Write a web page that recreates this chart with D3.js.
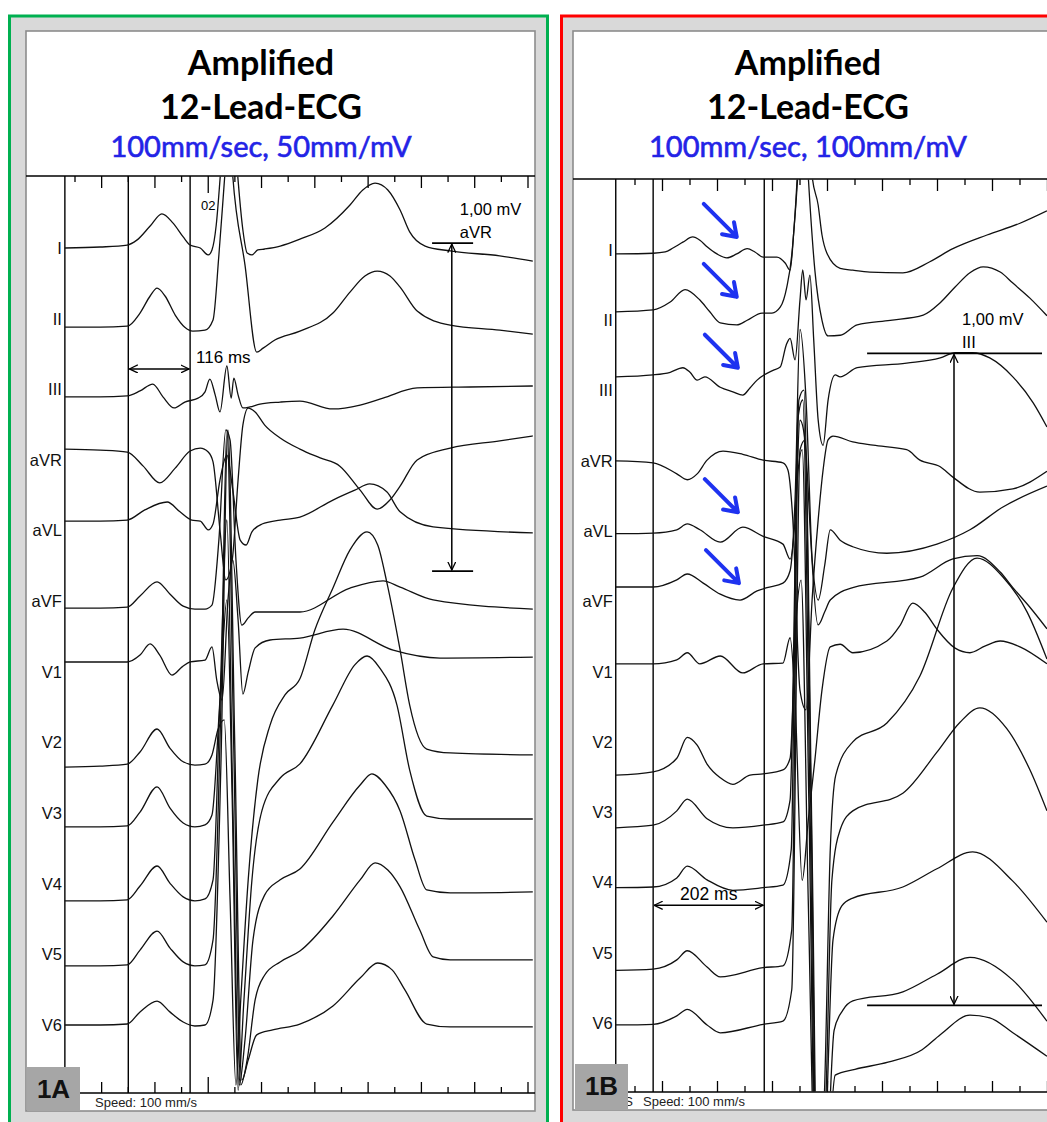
<!DOCTYPE html>
<html><head><meta charset="utf-8">
<script src="https://cdn.jsdelivr.net/npm/d3@7"></script>
<style>body{margin:0;background:#fff}svg{display:block}text{font-family:"Liberation Sans",Arial,sans-serif}</style>
</head><body><svg id="c" width="1047" height="1122"></svg>
<script>
// ---------- data ----------
const leads = ["I","II","III","aVR","aVL","aVF","V1","V2","V3","V4","V5","V6"];
const titleLines = ["Amplified","12-Lead-ECG"];
const subtitleA = "100mm/sec, 50mm/mV";
const subtitleB = "100mm/sec, 100mm/mV";
const panelLabels = ["1A","1B"];
const speedLabel = "Speed: 100 mm/s";
const tickTimesA = d3.range(0, 851, 50);   // ms
const tickTimesB = d3.range(0, 751, 50);
const markerTimeA = 250, markerLabelA = "02";
const startA = -19, startB = -35;           // ms, start of recording
const intervalA = [100, 216];               // ms  (116 ms)
const intervalB = [33, 235];                // ms  (202 ms)
const calA = {lead:"I", t:707, top:15, span:1000, t0:670, t1:747, lbl:"1,00 mV", leadLbl:"aVR"};
const calB = {lead:"III", t:580, top:57, span:1000, t0:422, t1:740, lbl:"1,00 mV", leadLbl:"III"};
const arrowLeadsB = ["I","II","III","aVL","aVF"];
const arrowTimesB = [185,185,187,187,189];
const arrowValsB  = [20,36,35,29,28];

// traces: [time ms, amplitude µV relative to the lead's row]
const A_I=[[-19,0],[47,3],[98,9],[116,24],[141,67],[163,104],[184,76],[203,34],[216,9],[235,0],[250,-21],[257,-6],[265,70],[272,207],[289,634],[306,207],[315,55],[323,-15],[332,-21],[343,-6],[356,-3],[385,6],[422,27],[469,61],[516,131],[540,177],[563,198],[587,177],[610,116],[628,49],[657,6],[704,-9],[797,-24],[859,-40]];
const A_II=[[-19,-26],[47,-26],[98,-23],[122,17],[141,69],[154,93],[169,69],[188,11],[206,-26],[221,-38],[244,-35],[259,-4],[270,194],[281,435],[289,606],[296,435],[319,163],[341,-102],[353,-90],[375,-65],[422,-38],[484,17],[516,81],[544,130],[567,145],[591,130],[610,96],[642,23],[704,-20],[797,-35],[859,-47]];
const A_III=[[-19,-23],[47,-23],[98,-20],[122,-5],[146,16],[165,-23],[186,-57],[206,-39],[231,-27],[244,-8],[253,31],[263,-17],[272,-69],[285,71],[293,-27],[298,34],[306,-17],[315,-57],[328,-54],[347,-45],[385,-39],[422,-36],[484,-60],[535,-48],[578,-27],[642,4],[741,7],[859,10]];
const A_aVR=[[-19,33],[47,30],[98,24],[128,-19],[159,-70],[188,-25],[216,27],[235,36],[250,24],[259,-6],[272,-213],[283,-366],[295,-305],[306,-61],[315,106],[325,158],[338,146],[356,106],[385,67],[422,33],[460,6],[497,-19],[535,-92],[567,-150],[591,-122],[610,-80],[642,0],[704,36],[797,58],[859,73]];
const A_aVL=[[-19,29],[47,29],[98,32],[131,63],[173,87],[197,57],[219,32],[235,29],[250,2],[259,20],[272,154],[285,230],[296,124],[310,-29],[321,-44],[332,-4],[351,20],[385,32],[422,41],[484,93],[525,123],[553,142],[585,118],[610,57],[672,11],[859,-7]];
const A_aVF=[[-19,-21],[47,-21],[98,-18],[122,16],[154,59],[178,22],[203,-15],[225,-24],[244,-24],[257,-12],[270,187],[283,522],[291,491],[302,126],[313,-73],[325,-51],[338,-33],[366,-33],[422,-33],[516,40],[578,62],[610,43],[672,4],[859,-24]];
const A_V1=[[-19,30],[47,30],[98,30],[122,51],[141,85],[159,51],[182,-10],[201,15],[216,30],[244,36],[257,76],[266,-25],[276,-86],[287,219],[296,341],[306,158],[315,-68],[325,-1],[338,73],[366,97],[422,103],[503,130],[597,66],[685,42],[859,45]];
const A_V2=[[-19,-75],[47,-72],[98,-66],[122,-29],[154,41],[178,-17],[203,-59],[225,-69],[244,-66],[257,-38],[268,38],[280,69],[291,-480],[302,-1045],[311,-785],[325,-419],[343,-114],[366,53],[394,145],[422,194],[450,343],[484,471],[516,587],[548,642],[568,602],[585,489],[610,282],[628,114],[660,-20],[704,-32],[859,-38]];
const A_V3=[[-19,-42],[47,-42],[98,-39],[122,3],[154,80],[178,16],[203,-30],[225,-42],[244,-36],[257,-6],[272,345],[285,650],[295,40],[306,-845],[317,-570],[332,-204],[351,9],[385,107],[422,150],[484,330],[525,452],[548,479],[572,442],[604,330],[628,131],[660,-9],[704,-18],[859,-18]];
const A_V4=[[-19,-52],[47,-52],[98,-49],[122,-7],[154,54],[178,2],[203,-40],[225,-52],[244,-46],[259,12],[272,560],[285,1109],[296,255],[308,-614],[319,-476],[334,-171],[356,-34],[385,12],[422,45],[484,188],[535,301],[557,335],[582,301],[610,222],[638,73],[660,-19],[704,-28],[859,-25]];
const A_V5=[[-19,-35],[47,-35],[98,-32],[122,13],[154,71],[178,20],[203,-23],[225,-35],[244,-32],[259,44],[274,776],[285,1599],[298,623],[311,-398],[323,-322],[338,-139],[356,-63],[385,-23],[422,10],[484,117],[535,227],[563,279],[587,257],[610,206],[647,74],[672,-8],[704,-17],[859,-17]];
const A_V6=[[-19,0],[47,0],[98,3],[122,40],[154,73],[178,40],[203,9],[225,-3],[244,0],[259,76],[274,808],[287,1814],[300,838],[313,-168],[325,-107],[341,-30],[371,-15],[422,3],[484,58],[535,143],[568,189],[595,168],[619,107],[660,3],[704,-6],[859,-6]];

const B_I=[[-35,-6],[33,-5],[55,-3],[69,3],[87,12],[105,20],[118,15],[131,5],[149,-6],[167,-12],[185,-6],[204,2],[218,-3],[233,-11],[258,-11],[273,-20],[282,-31],[289,31],[296,114],[309,337],[322,114],[333,69],[340,23],[349,-5],[373,-28],[396,-31],[427,-34],[487,-35],[536,-18],[578,2],[640,23],[700,41],[749,60]];
const B_II=[[-35,13],[33,16],[64,28],[91,47],[118,31],[136,13],[155,-4],[185,-7],[204,0],[231,11],[249,11],[264,20],[276,51],[285,100],[295,221],[304,399],[315,221],[327,77],[340,0],[351,-24],[373,-23],[404,-7],[464,0],[524,8],[555,27],[582,51],[609,73],[633,82],[664,74],[687,57],[718,34],[749,7]];
const B_III=[[-35,21],[33,24],[64,28],[87,35],[100,28],[113,16],[127,21],[155,5],[178,-2],[196,-7],[209,4],[222,16],[251,31],[264,36],[275,70],[282,80],[291,47],[300,139],[305,185],[311,139],[318,177],[325,77],[333,-45],[342,-84],[351,-15],[364,24],[373,21],[404,35],[494,42],[555,50],[582,58],[614,58],[645,50],[687,21],[724,-19],[749,-56]];
const B_aVR=[[-35,0],[33,-3],[76,-20],[95,-29],[113,-20],[131,1],[160,15],[196,10],[233,1],[269,-3],[278,-14],[287,-91],[300,-352],[311,-382],[322,-213],[333,-91],[342,-14],[351,32],[360,38],[396,29],[433,24],[494,17],[518,1],[555,-9],[578,-25],[627,-48],[687,-43],[749,-16]];
const B_aVL=[[-35,-4],[33,-3],[76,2],[95,11],[118,2],[155,-17],[196,6],[233,-8],[269,-20],[282,-43],[291,17],[300,170],[309,140],[322,-44],[333,-106],[345,-52],[355,2],[373,-14],[396,-24],[458,-34],[549,-20],[609,2],[669,37],[749,69]];
const B_aVF=[[-35,22],[33,22],[76,33],[95,42],[124,28],[155,11],[191,2],[222,16],[240,21],[269,28],[282,47],[291,156],[300,417],[311,309],[322,63],[333,-36],[345,-16],[355,2],[396,21],[518,37],[578,65],[622,70],[664,45],[687,21],[718,-9],[749,-42]];
const B_V1=[[-35,12],[33,12],[76,18],[95,29],[118,12],[155,24],[196,-2],[233,12],[269,13],[282,52],[291,-43],[304,-320],[315,-228],[327,-136],[340,-28],[355,38],[373,42],[396,29],[458,47],[482,71],[505,105],[527,91],[549,65],[582,36],[609,29],[636,39],[664,47],[700,38],[749,12]];
const B_V2=[[-35,-51],[33,-46],[76,-25],[95,7],[113,-5],[131,-34],[155,-55],[178,-65],[209,-51],[233,-49],[269,-43],[282,-25],[293,187],[302,248],[315,-243],[329,-703],[344,-549],[355,-166],[365,-51],[396,0],[458,29],[518,101],[578,236],[622,282],[669,253],[713,199],[749,127]];
const B_V3=[[-35,-24],[33,-20],[76,2],[95,20],[131,-10],[178,-24],[233,-20],[269,-15],[282,19],[295,509],[304,556],[316,19],[331,-671],[347,-441],[358,-104],[373,-27],[396,2],[487,29],[549,92],[591,138],[627,160],[676,128],[718,65],[749,2]];
const B_V4=[[-35,-8],[33,-7],[76,7],[95,25],[131,4],[178,-12],[233,-8],[269,-4],[284,50],[296,710],[305,740],[318,127],[333,-640],[349,-334],[360,-88],[376,-36],[396,-24],[487,-7],[549,21],[614,47],[687,2],[749,-61]];
const B_V5=[[-35,-27],[33,-25],[76,-11],[95,3],[131,-22],[155,-37],[233,-23],[269,-20],[285,35],[298,848],[307,863],[320,234],[335,-610],[351,-303],[362,-119],[378,-88],[396,-74],[487,-60],[549,-33],[609,-7],[687,-42],[749,-105]];
const B_V6=[[-35,-3],[33,-2],[76,11],[95,21],[131,-3],[155,-15],[233,-2],[269,3],[285,51],[300,879],[309,894],[322,265],[336,-502],[353,-195],[364,-80],[400,-71],[460,-60],[522,-41],[555,-18],[609,12],[645,8],[687,-15],[749,-51]];

const tracesA = [A_I,A_II,A_III,A_aVR,A_aVL,A_aVF,A_V1,A_V2,A_V3,A_V4,A_V5,A_V6];
const tracesB = [B_I,B_II,B_III,B_aVR,B_aVL,B_aVF,B_V1,B_V2,B_V3,B_V4,B_V5,B_V6];

// ---------- drawing ----------
const svg = d3.select("#c");
const defs = svg.append("defs");
defs.append("marker").attr("id","chev").attr("viewBox","0 0 10 10").attr("refX",9.5).attr("refY",5)
  .attr("markerWidth",9).attr("markerHeight",9).attr("markerUnits","userSpaceOnUse").attr("orient","auto-start-reverse")
  .append("path").attr("d","M0,0.5L9.5,5L0,9.5").attr("fill","none").attr("stroke","#000").attr("stroke-width",1.4);

function panel(o){
  const g = svg.append("g");
  g.append("rect").attr("x",o.frameX).attr("y",16).attr("width",o.frameW).attr("height",1130).attr("fill","#d9d9d9");
  g.append("rect").attr("x",o.frameX).attr("y",16).attr("width",o.frameW).attr("height",1130)
    .attr("fill","none").attr("stroke",o.color).attr("stroke-width",3);
  g.append("rect").attr("x",o.innerL).attr("y",31).attr("width",o.innerR-o.innerL).attr("height",o.innerB-31)
    .attr("fill","#fff").attr("stroke","#8c8c8c").attr("stroke-width",1.6);
  const cx = o.innerL+235;
  g.selectAll("text.title").data(titleLines).join("text").attr("class","title")
    .attr("x",cx).attr("y",(d,i)=>[75,119][i]).attr("text-anchor","middle")
    .style("font-family","Lato, 'Open Sans', sans-serif").style("font-weight","700").style("font-size","34px").attr("fill","#000").text(d=>d);
  g.append("text").attr("x",cx).attr("y",157).attr("text-anchor","middle")
    .style("font-family","Lato, 'Open Sans', sans-serif").style("font-size","29px")
    .attr("fill","#2323e6").attr("stroke","#2323e6").attr("stroke-width",0.6).text(o.subtitle);

  const x = d3.scaleLinear().domain(o.xDomain).range(o.xRange);
  const row = d3.scalePoint().domain(leads).range(o.rowRange);
  const yv = (lead,v)=> row(lead) - v*o.gain;

  // axes lines
  g.append("line").attr("x1",o.innerL).attr("x2",o.innerR).attr("y1",o.top).attr("y2",o.top).attr("stroke","#000").attr("stroke-width",1.5);
  g.append("line").attr("x1",o.boxR).attr("x2",o.innerR).attr("y1",o.bottom).attr("y2",o.bottom).attr("stroke","#000").attr("stroke-width",1.5);
  const tl = t => (o.marker!==undefined && t===o.marker) ? 17 : (t%100===0 ? 6 : 12);
  g.selectAll("line.tt").data(o.ticks).join("line").attr("class","tt")
    .attr("x1",d=>x(d)).attr("x2",d=>x(d)).attr("y1",o.top).attr("y2",d=>o.top+tl(d)).attr("stroke","#000").attr("stroke-width",1.3);
  g.selectAll("line.bt").data(o.ticks.filter(t=>x(t)>o.boxR+2)).join("line").attr("class","bt")
    .attr("x1",d=>x(d)).attr("x2",d=>x(d)).attr("y1",o.bottom).attr("y2",d=>o.bottom-(tl(d)===6?6:tl(d)-1)).attr("stroke","#000").attr("stroke-width",1.3);
  if(o.marker!==undefined){
    g.append("text").attr("x",x(o.marker)).attr("y",o.top+34).attr("text-anchor","middle").style("font-size","13px").text(o.markerLabel);
  }
  // vertical lines
  g.selectAll("line.vl").data([o.start, ...o.interval]).join("line").attr("class","vl")
    .attr("x1",d=>x(d)).attr("x2",d=>x(d)).attr("y1",o.top).attr("y2",o.bottom).attr("stroke","#000").attr("stroke-width",1.4);

  // traces
  const cid = "clip"+o.name;
  defs.append("clipPath").attr("id",cid).append("rect").attr("x",o.innerL+1).attr("y",o.top+0.5)
    .attr("width",o.innerR-o.innerL-2).attr("height",o.bottom-o.top-1);
  const line = d3.line().curve(d3.curveMonotoneX);
  g.append("g").attr("clip-path",`url(#${cid})`).selectAll("path").data(o.traces).join("path")
    .attr("d",(tr,i)=>line(tr.map(p=>[x(p[0]), yv(leads[i],p[1])])))
    .attr("fill","none").attr("stroke","#111").attr("stroke-width",1.3).attr("stroke-linejoin","round");

  // lead labels
  g.selectAll("text.ll").data(leads).join("text").attr("class","ll")
    .attr("x",x(o.start)-3).attr("y",d=>row(d)).attr("dy","0.36em").attr("text-anchor","end")
    .style("font-size","16.5px").attr("fill","#111").text(d=>d);

  // interval arrow
  const iy = yv(o.intLead,o.intVal);
  g.append("line").attr("x1",x(o.interval[0])+1).attr("x2",x(o.interval[1])-1).attr("y1",iy).attr("y2",iy)
    .attr("stroke","#000").attr("stroke-width",1.4).attr("marker-start","url(#chev)").attr("marker-end","url(#chev)");
  const ilbl = (o.interval[1]-o.interval[0])+" ms";
  if(o.intAnchor==="start") g.append("text").attr("x",x(o.interval[1])+6).attr("y",iy-6).style("font-size","17px").text(ilbl);
  else g.append("text").attr("x",(x(o.interval[0])+x(o.interval[1]))/2).attr("y",iy-5).attr("text-anchor","middle").style("font-size","17.5px").text(ilbl);

  // calibration
  const c = o.cal, cxp = x(c.t), yt = yv(c.lead,c.top), yb = yv(c.lead,c.top-c.span);
  g.selectAll("line.cb").data([yt,yb]).join("line").attr("class","cb")
    .attr("x1",x(c.t0)).attr("x2",x(c.t1)).attr("y1",d=>d).attr("y2",d=>d).attr("stroke","#000").attr("stroke-width",1.6);
  g.append("line").attr("x1",cxp).attr("x2",cxp).attr("y1",yt+1).attr("y2",yb-1).attr("stroke","#000").attr("stroke-width",1.5)
    .attr("marker-start","url(#chev)").attr("marker-end","url(#chev)");
  g.append("text").attr("x",cxp+8).attr("y",yt-28).style("font-size","16.5px").text(c.lbl);
  g.append("text").attr("x",cxp+8).attr("y",yt-5).style("font-size","16.5px").text(c.leadLbl);

  // blue arrows
  if(o.arrows){
    o.arrows.forEach(a=>{
      const tx = x(a.t), ty = yv(a.lead,a.v), sx = tx-33, sy = ty-33;
      const ang = Math.atan2(ty-sy, tx-sx), L=15, sp=0.6;
      const p1=[tx-L*Math.cos(ang-sp), ty-L*Math.sin(ang-sp)], p2=[tx-L*Math.cos(ang+sp), ty-L*Math.sin(ang+sp)];
      g.append("path").attr("d",`M${sx},${sy}L${tx},${ty}M${p1[0]},${p1[1]}L${tx},${ty}L${p2[0]},${p2[1]}`)
        .attr("fill","none").attr("stroke","#1e32f0").attr("stroke-width",4).attr("stroke-linecap","round").attr("stroke-linejoin","round");
    });
  }

  // bottom strip, speed text, panel box
  if(o.hidden) g.append("text").attr("x",o.boxR+5).attr("y",o.innerB-4).attr("text-anchor","end").style("font-size","13px").attr("fill","#222").text(o.hidden);
  g.append("text").attr("x",o.boxR+15).attr("y",o.innerB-4).style("font-size","13px").attr("fill","#222").text(speedLabel);
  g.append("rect").attr("x",o.boxL).attr("y",o.boxT).attr("width",o.boxR-o.boxL).attr("height",o.innerB-o.boxT).attr("fill","#a6a6a6");
  g.append("text").attr("x",(o.boxL+o.boxR)/2).attr("y",o.boxT+31).attr("text-anchor","middle")
    .style("font-size","26px").style("font-weight","700").attr("fill","#111").text(o.label);
}

panel({name:"A", frameX:9.5, frameW:538, color:"#00b050", innerL:26, innerR:535, innerB:1111,
  subtitle:subtitleA, xDomain:[0,850], xRange:[75,528], rowRange:[248,1025], gain:0.328,
  top:176, bottom:1093, ticks:tickTimesA, marker:markerTimeA, markerLabel:markerLabelA,
  start:startA, interval:intervalA, intLead:"III", intVal:62, intAnchor:"start",
  cal:calA, traces:tracesA, boxL:27, boxR:80, boxT:1067, label:panelLabels[0]});

panel({name:"B", frameX:561.5, frameW:540, color:"#ff0000", innerL:573, innerR:1095, innerB:1110,
  subtitle:subtitleB, xDomain:[0,750], xRange:[635,1047.5], rowRange:[250,1023], gain:0.652,
  top:179, bottom:1092, ticks:tickTimesB,
  start:startB, interval:intervalB, intLead:"V4", intVal:-35, intAnchor:"middle",
  cal:calB, traces:tracesB, boxL:575, boxR:628, boxT:1064, label:panelLabels[1], hidden:"S",
  arrows: arrowLeadsB.map((l,i)=>({lead:l, t:arrowTimesB[i], v:arrowValsB[i]}))});
</script></body></html>
